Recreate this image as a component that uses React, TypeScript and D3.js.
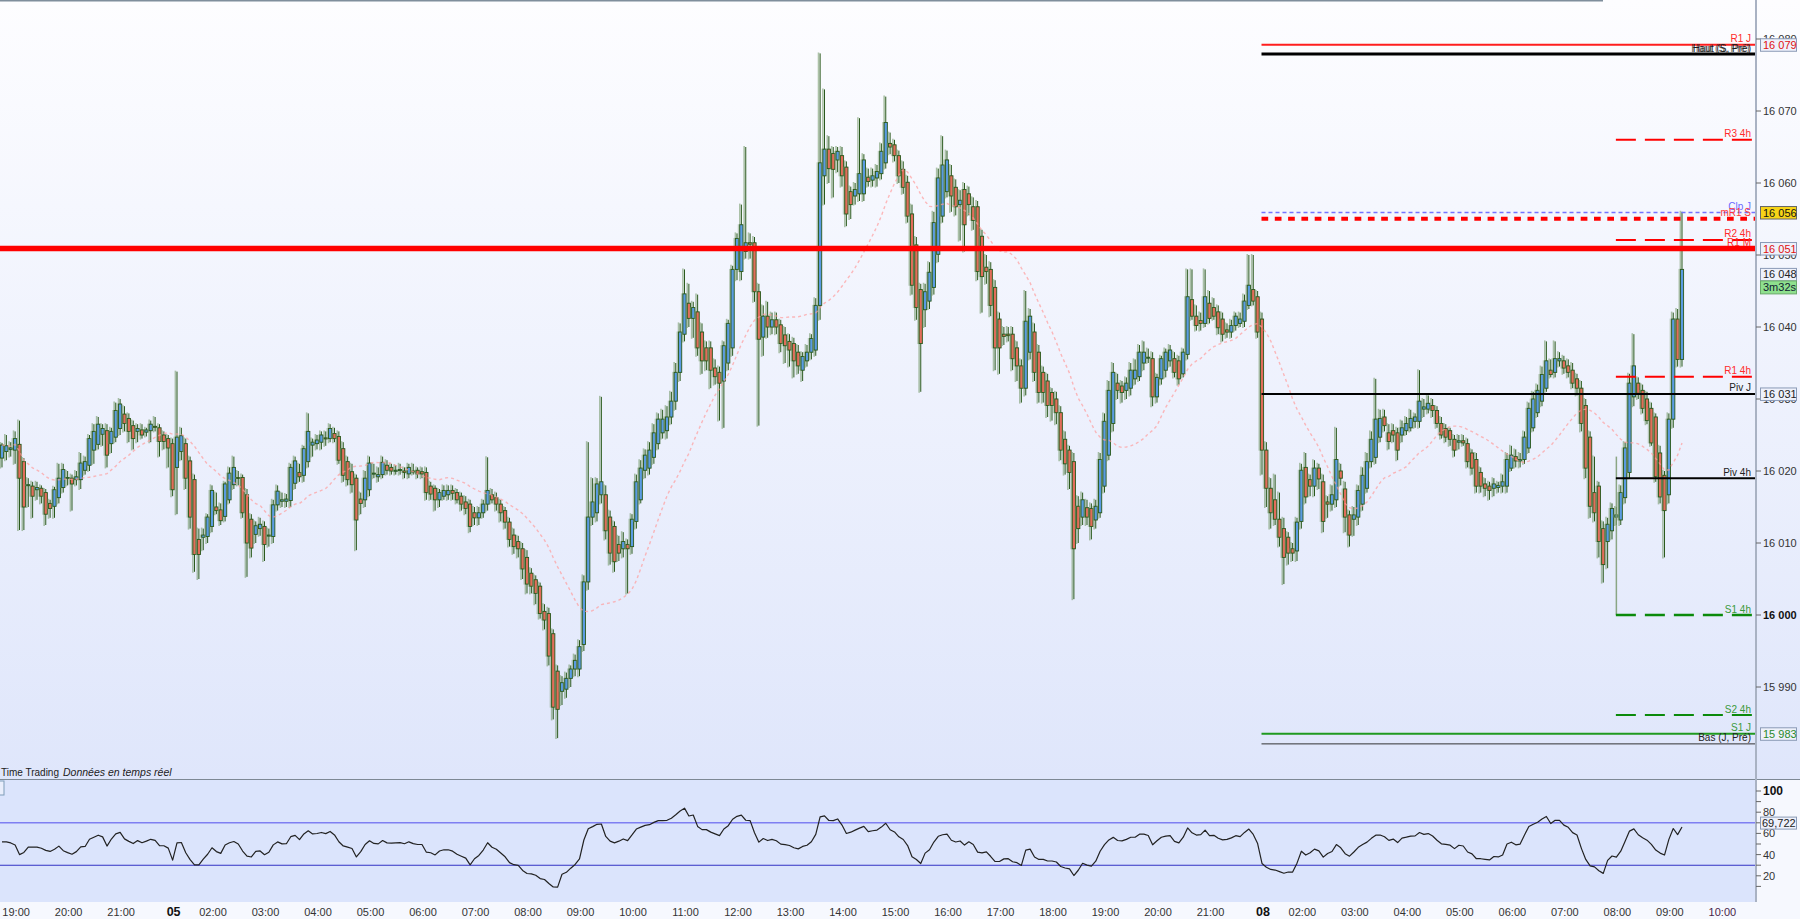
import React, { useEffect } from "react";
import * as d3 from "d3";

// ---------- DATA (5-minute candles) ----------
const OPEN = [
  16021.8, 16022.7, 16023.0, 16022.9, 16023.7, 16021.3, 16018.0, 16017.9, 16017.4, 16017.6,
  16017.0, 16015.5, 16015.1, 16016.3, 16017.7, 16019.0, 16019.0, 16018.8, 16018.8, 16020.1,
  16020.8, 16022.9, 16023.7, 16025.1, 16025.6, 16023.8, 16024.7, 16025.9, 16027.9, 16027.3,
  16026.3, 16025.5, 16025.7, 16025.4, 16025.6, 16026.2, 16026.0, 16025.0, 16024.5, 16023.8,
  16020.5, 16022.7, 16023.8, 16021.4, 16018.8, 16010.5, 16010.8, 16010.9, 16012.3, 16015.0,
  16014.6, 16013.7, 16016.0, 16018.1, 16019.1, 16019.1, 16016.7, 16013.3, 16011.2, 16012.0,
  16012.3, 16011.0, 16010.9, 16015.3, 16015.8, 16015.8, 16015.9, 16018.3, 16019.8, 16019.4,
  16021.3, 16023.6, 16023.8, 16024.0, 16024.6, 16024.5, 16025.2, 16024.8, 16023.1, 16021.3,
  16019.9, 16019.0, 16016.1, 16016.0, 16017.4, 16019.7, 16019.2, 16019.5, 16020.8, 16020.5,
  16020.1, 16020.1, 16020.0, 16019.6, 16020.0, 16020.1, 16019.9, 16019.8, 16017.9, 16017.6,
  16016.0, 16016.5, 16016.7, 16017.3, 16017.0, 16016.5, 16015.7, 16015.4, 16014.2, 16013.5,
  16014.2, 16015.4, 16016.7, 16016.3, 16015.4, 16014.5, 16012.9, 16011.1, 16010.2, 16009.2,
  16008.0, 16005.8, 16004.9, 16004.0, 16000.5, 16000.2, 15997.4, 15992.2, 15989.4, 15989.7,
  15991.2, 15992.5, 15992.5, 15995.9, 16004.6, 16013.6, 16014.2, 16016.7, 16016.7, 16013.6,
  16012.3, 16009.8, 16009.2, 16009.8, 16009.5, 16013.0, 16016.0, 16020.1, 16020.4, 16021.9,
  16023.8, 16025.3, 16025.6, 16027.5, 16029.7, 16033.7, 16039.0, 16043.3, 16041.2, 16042.1,
  16039.3, 16037.1, 16037.1, 16034.3, 16033.7, 16032.5, 16035.0, 16037.1, 16048.0, 16047.7,
  16050.5, 16051.7, 16051.7, 16044.9, 16038.6, 16041.5, 16040.0, 16041.0, 16040.3, 16038.9,
  16038.0, 16037.7, 16036.5, 16034.0, 16035.3, 16036.5, 16036.8, 16043.0, 16061.0, 16064.7,
  16064.1, 16063.2, 16063.8, 16062.2, 16058.8, 16058.2, 16058.5, 16058.5, 16060.8, 16060.4,
  16060.7, 16061.3, 16062.8, 16065.5, 16065.3, 16063.8, 16061.9, 16060.1, 16055.7, 16051.4,
  16045.2, 16042.4, 16043.6, 16045.5, 16050.1, 16055.4, 16058.8, 16061.0, 16059.4, 16057.0,
  16059.1, 16058.5, 16056.7, 16056.7, 16052.6, 16048.3, 16048.0, 16045.5, 16041.1, 16039.0,
  16039.0, 16039.0, 16037.1, 16034.6, 16031.5, 16036.5, 16039.3, 16036.5, 16033.7, 16032.5,
  16030.9, 16030.0, 16028.1, 16024.4, 16022.9, 16021.3, 16015.1, 16013.6, 16014.9, 16014.8,
  16013.2, 16014.2, 16017.9, 16022.2, 16026.6, 16032.2, 16031.8, 16031.2, 16031.5, 16032.8,
  16033.1, 16035.0, 16035.8, 16035.6, 16030.3, 16032.8, 16034.0, 16035.3, 16035.6, 16035.3,
  16033.5, 16036.2, 16043.8, 16041.5, 16040.9, 16040.5, 16043.3, 16042.7, 16042.1, 16041.1,
  16039.6, 16039.3, 16040.2, 16040.5, 16040.8, 16043.0, 16045.2, 16044.2, 16041.1, 16022.9,
  16017.6, 16016.0, 16013.3, 16012.0, 16010.8, 16009.2, 16008.9, 16013.0, 16020.5, 16018.8,
  16017.9, 16020.4, 16018.5, 16015.7, 16015.4, 16016.0, 16020.0, 16017.5, 16013.9, 16013.3,
  16013.6, 16015.4, 16017.6, 16021.3, 16021.9, 16024.7, 16027.5, 16025.3, 16025.6, 16025.3,
  16025.0, 16025.6, 16026.0, 16026.9, 16026.9, 16028.6, 16028.6, 16029.1, 16028.4, 16026.6,
  16025.9, 16025.6, 16024.4, 16024.0, 16024.2, 16023.8, 16022.5, 16021.6, 16019.8, 16018.2,
  16017.9, 16017.6, 16017.7, 16017.9, 16017.9, 16020.4, 16022.0, 16021.4, 16021.6, 16023.2,
  16026.0, 16028.1, 16029.7, 16031.5, 16034.0, 16033.7, 16035.3, 16035.3, 16034.6, 16034.0,
  16032.8, 16031.5, 16029.1, 16024.7, 16017.0, 16017.9, 16012.0, 16010.2, 16011.7, 16013.6,
  16013.2, 16016.3, 16019.8, 16030.3, 16032.2, 16031.2, 16030.0, 16028.7, 16027.5, 16022.5,
  16019.4, 16016.7, 16027.2, 16041.1, 16035.5,
];
const HIGH = [
  16023.9, 16025.0, 16024.0, 16025.5, 16027.0, 16021.8, 16019.0, 16018.5, 16018.5, 16018.0,
  16017.5, 16016.0, 16017.8, 16021.0, 16021.0, 16020.0, 16019.5, 16020.0, 16022.5, 16022.0,
  16025.0, 16026.5, 16027.5, 16026.5, 16026.5, 16026.0, 16029.5, 16030.0, 16029.0, 16028.0,
  16027.0, 16026.5, 16026.5, 16026.0, 16027.0, 16027.5, 16026.5, 16025.5, 16025.0, 16024.5,
  16033.8, 16026.0, 16024.5, 16022.0, 16019.5, 16012.0, 16012.0, 16014.0, 16018.0, 16017.0,
  16015.5, 16018.5, 16020.5, 16022.0, 16020.0, 16019.5, 16017.5, 16014.0, 16013.0, 16013.5,
  16013.0, 16012.0, 16016.0, 16018.0, 16017.0, 16016.8, 16021.0, 16022.0, 16021.0, 16023.5,
  16028.0, 16024.5, 16025.0, 16025.5, 16025.5, 16026.5, 16026.0, 16025.5, 16024.0, 16022.0,
  16021.0, 16019.5, 16017.0, 16020.0, 16022.0, 16021.0, 16020.5, 16022.0, 16021.5, 16021.0,
  16020.8, 16021.0, 16020.5, 16021.0, 16021.0, 16020.5, 16020.5, 16020.5, 16018.5, 16018.0,
  16017.5, 16018.0, 16018.0, 16018.0, 16017.5, 16017.0, 16016.5, 16016.0, 16015.0, 16015.0,
  16016.0, 16021.9, 16017.5, 16017.0, 16016.0, 16015.0, 16013.5, 16012.0, 16011.0, 16010.0,
  16009.0, 16006.5, 16005.5, 16004.5, 16001.5, 16001.0, 15998.0, 15993.0, 15991.5, 15992.0,
  15993.0, 15994.5, 15996.5, 16005.5, 16024.0, 16019.0, 16019.0, 16030.3, 16018.0, 16014.5,
  16013.0, 16011.0, 16011.5, 16010.5, 16014.0, 16019.5, 16021.5, 16023.0, 16024.0, 16026.5,
  16028.0, 16028.5, 16029.0, 16031.0, 16035.0, 16040.5, 16048.0, 16046.0, 16043.5, 16044.5,
  16040.5, 16038.0, 16038.0, 16035.5, 16034.5, 16038.0, 16041.0, 16048.5, 16053.0, 16057.0,
  16065.0, 16053.0, 16052.5, 16046.0, 16043.0, 16043.5, 16042.0, 16042.0, 16041.0, 16040.0,
  16039.0, 16038.5, 16037.5, 16036.5, 16037.5, 16039.0, 16044.0, 16078.0, 16073.0, 16066.5,
  16065.0, 16065.0, 16065.0, 16063.0, 16059.5, 16060.0, 16069.0, 16064.0, 16062.0, 16062.0,
  16062.5, 16065.5, 16072.0, 16067.0, 16066.0, 16064.5, 16063.0, 16061.0, 16057.0, 16052.5,
  16046.0, 16046.0, 16049.0, 16056.0, 16062.0, 16066.5, 16064.5, 16062.5, 16060.5, 16059.0,
  16060.0, 16059.5, 16058.0, 16057.5, 16053.5, 16050.0, 16049.0, 16046.5, 16042.0, 16040.0,
  16040.0, 16040.0, 16038.0, 16035.5, 16045.0, 16042.5, 16040.5, 16037.5, 16034.5, 16033.5,
  16031.5, 16031.0, 16029.0, 16025.5, 16023.5, 16022.5, 16016.5, 16017.0, 16016.0, 16015.5,
  16016.0, 16022.5, 16028.0, 16032.5, 16035.0, 16033.5, 16032.5, 16033.0, 16035.0, 16035.5,
  16037.5, 16038.0, 16037.0, 16036.5, 16033.5, 16036.0, 16037.0, 16037.5, 16036.5, 16036.0,
  16037.0, 16048.0, 16048.0, 16043.0, 16042.0, 16048.0, 16045.0, 16044.0, 16043.0, 16042.0,
  16040.5, 16041.0, 16042.0, 16042.0, 16044.5, 16050.0, 16050.0, 16045.0, 16042.0, 16024.0,
  16019.0, 16019.5, 16017.0, 16013.5, 16011.5, 16010.0, 16013.5, 16021.0, 16022.5, 16019.5,
  16021.5, 16021.0, 16019.5, 16016.5, 16018.0, 16026.0, 16021.0, 16018.5, 16014.5, 16015.0,
  16018.0, 16020.5, 16022.5, 16025.5, 16032.8, 16028.5, 16028.5, 16026.5, 16026.5, 16026.0,
  16027.0, 16027.5, 16028.5, 16028.0, 16034.0, 16030.0, 16030.5, 16030.0, 16029.0, 16027.5,
  16026.5, 16026.0, 16025.0, 16025.0, 16025.0, 16024.5, 16023.0, 16022.5, 16020.5, 16019.0,
  16018.5, 16019.0, 16018.5, 16019.5, 16022.5, 16023.5, 16023.0, 16022.5, 16025.5, 16029.5,
  16031.0, 16032.0, 16034.5, 16038.0, 16035.5, 16038.0, 16036.5, 16036.0, 16035.5, 16035.0,
  16033.5, 16032.5, 16030.0, 16025.5, 16022.0, 16018.5, 16013.0, 16013.5, 16015.5, 16015.0,
  16018.0, 16024.0, 16033.5, 16039.0, 16033.0, 16032.0, 16031.0, 16029.5, 16028.0, 16023.5,
  16020.0, 16028.0, 16042.0, 16042.5, 16056.0,
];
const LOW = [
  16020.5, 16021.5, 16022.0, 16021.0, 16011.8, 16011.8, 16015.0, 16013.5, 16016.0, 16015.5,
  16012.5, 16013.5, 16013.5, 16015.5, 16017.0, 16018.0, 16014.5, 16018.0, 16017.5, 16019.5,
  16020.0, 16021.0, 16023.0, 16023.5, 16020.5, 16022.5, 16024.0, 16025.0, 16025.5, 16024.0,
  16023.0, 16024.0, 16024.5, 16024.8, 16024.0, 16025.5, 16022.0, 16023.0, 16020.5, 16016.5,
  16014.0, 16021.5, 16017.5, 16012.0, 16006.0, 16005.0, 16009.0, 16010.0, 16011.5, 16014.0,
  16012.5, 16013.0, 16015.5, 16017.5, 16018.0, 16013.5, 16005.3, 16008.0, 16010.0, 16011.0,
  16007.5, 16009.5, 16010.0, 16014.5, 16015.0, 16015.0, 16015.0, 16017.5, 16018.5, 16018.5,
  16020.5, 16022.0, 16023.0, 16023.0, 16023.5, 16024.0, 16024.0, 16021.0, 16018.5, 16018.0,
  16017.0, 16009.0, 16014.0, 16015.0, 16016.5, 16019.0, 16018.5, 16019.0, 16019.5, 16019.5,
  16019.5, 16019.5, 16019.0, 16019.0, 16019.5, 16019.0, 16019.0, 16016.0, 16016.0, 16014.5,
  16015.0, 16016.0, 16016.0, 16016.0, 16015.5, 16014.5, 16014.0, 16011.5, 16012.5, 16012.5,
  16013.5, 16014.5, 16015.5, 16014.5, 16013.0, 16012.0, 16009.5, 16008.5, 16008.0, 16005.0,
  16003.0, 16003.0, 16001.5, 15999.5, 15998.0, 15993.0, 15985.5, 15982.9, 15987.5, 15988.5,
  15990.0, 15991.5, 15991.5, 15995.0, 16003.5, 16012.5, 16013.0, 16015.5, 16010.5, 16007.0,
  16006.0, 16007.5, 16008.0, 16003.0, 16008.5, 16012.0, 16015.5, 16019.0, 16019.5, 16021.0,
  16023.0, 16024.5, 16024.5, 16026.5, 16028.5, 16032.5, 16038.0, 16040.0, 16038.5, 16036.0,
  16033.5, 16034.0, 16031.5, 16032.0, 16027.0, 16026.0, 16034.0, 16036.0, 16046.5, 16046.5,
  16049.5, 16049.5, 16043.5, 16026.3, 16036.0, 16038.5, 16039.0, 16039.0, 16036.5, 16035.0,
  16034.5, 16033.0, 16033.5, 16032.5, 16034.5, 16035.5, 16036.0, 16041.0, 16057.0, 16060.0,
  16058.0, 16061.5, 16059.5, 16054.0, 16055.0, 16057.0, 16057.5, 16057.5, 16059.5, 16059.5,
  16059.5, 16060.5, 16062.0, 16064.0, 16063.0, 16060.0, 16058.5, 16054.5, 16044.5, 16041.0,
  16031.0, 16040.0, 16042.5, 16044.5, 16049.0, 16054.5, 16058.0, 16056.0, 16055.5, 16052.0,
  16050.5, 16055.5, 16053.5, 16046.5, 16042.0, 16046.0, 16041.5, 16034.0, 16033.5, 16037.5,
  16038.0, 16034.0, 16032.5, 16029.5, 16030.5, 16035.5, 16032.5, 16029.5, 16029.5, 16027.5,
  16027.0, 16026.5, 16021.5, 16019.5, 16017.5, 16002.2, 16010.0, 16012.5, 16012.5, 16010.5,
  16012.0, 16013.5, 16017.0, 16021.5, 16025.5, 16030.0, 16029.5, 16030.0, 16030.5, 16032.0,
  16032.5, 16034.0, 16035.0, 16029.0, 16029.5, 16032.0, 16033.0, 16034.5, 16033.0, 16032.0,
  16033.0, 16035.5, 16041.0, 16039.5, 16039.5, 16040.0, 16040.5, 16041.0, 16039.0, 16038.0,
  16038.5, 16038.5, 16039.5, 16040.0, 16040.0, 16042.5, 16043.0, 16038.5, 16019.5, 16015.0,
  16012.0, 16012.5, 16009.5, 16004.3, 16007.0, 16007.5, 16007.5, 16012.0, 16015.5, 16016.5,
  16016.5, 16017.5, 16011.5, 16013.5, 16014.5, 16015.0, 16018.0, 16011.5, 16009.5, 16011.0,
  16012.5, 16014.5, 16017.0, 16020.5, 16021.0, 16024.0, 16025.5, 16023.0, 16024.0, 16021.5,
  16024.0, 16025.0, 16025.5, 16026.0, 16026.0, 16027.5, 16028.0, 16027.5, 16026.0, 16024.5,
  16024.0, 16023.5, 16022.0, 16023.0, 16023.5, 16020.5, 16019.5, 16017.0, 16017.0, 16016.5,
  16016.0, 16016.5, 16017.0, 16017.0, 16017.0, 16020.0, 16020.5, 16020.5, 16021.0, 16022.5,
  16025.5, 16027.5, 16029.0, 16031.0, 16033.0, 16033.0, 16034.5, 16033.5, 16033.0, 16031.5,
  16030.5, 16025.5, 16019.0, 16013.5, 16013.0, 16008.0, 16004.5, 16006.5, 16010.5, 16012.5,
  16012.5, 16015.5, 16019.0, 16029.0, 16030.0, 16028.0, 16026.5, 16023.5, 16018.5, 16015.5,
  16008.0, 16015.5, 16026.0, 16034.5, 16034.5,
];
const CLOSE = [
  16023.6, 16023.5, 16023.2, 16024.5, 16019.0, 16015.0, 16018.1, 16016.5, 16017.7, 16016.5,
  16014.0, 16014.8, 16017.4, 16019.0, 16020.2, 16019.1, 16018.2, 16019.2, 16021.1, 16021.3,
  16024.5, 16025.5, 16026.5, 16025.9, 16022.2, 16025.5, 16028.4, 16029.3, 16026.6, 16025.5,
  16024.5, 16025.9, 16025.0, 16025.7, 16026.5, 16026.1, 16024.1, 16024.1, 16023.2, 16017.4,
  16024.7, 16024.9, 16019.0, 16013.6, 16008.4, 16008.4, 16011.1, 16013.6, 16017.3, 16014.5,
  16013.1, 16018.2, 16019.7, 16020.5, 16019.0, 16014.2, 16010.0, 16009.3, 16012.4, 16012.6,
  16009.8, 16011.1, 16015.3, 16017.2, 16016.0, 16016.1, 16020.5, 16021.4, 16019.2, 16023.1,
  16025.5, 16024.0, 16024.3, 16025.0, 16024.5, 16025.9, 16024.5, 16021.5, 16019.4, 16018.8,
  16018.1, 16013.2, 16015.5, 16019.0, 16021.1, 16019.7, 16019.5, 16021.2, 16020.1, 16020.0,
  16020.1, 16020.2, 16019.8, 16020.5, 16019.9, 16019.6, 16019.6, 16017.0, 16016.8, 16016.0,
  16017.0, 16017.3, 16017.3, 16016.9, 16016.0, 16015.4, 16014.8, 16012.3, 16013.5, 16014.2,
  16015.4, 16017.3, 16016.0, 16015.4, 16014.2, 16012.9, 16010.5, 16009.5, 16009.2, 16006.4,
  16004.3, 16004.0, 16003.0, 16000.2, 15999.3, 15994.3, 15987.2, 15986.9, 15990.6, 15991.2,
  15992.5, 15993.7, 15995.6, 16004.6, 16013.6, 16015.7, 16018.2, 16018.5, 16011.7, 16008.6,
  16007.4, 16008.6, 16010.2, 16009.2, 16013.3, 16018.5, 16020.4, 16022.2, 16022.9, 16025.3,
  16027.2, 16027.2, 16027.5, 16029.7, 16033.7, 16039.3, 16044.6, 16041.2, 16042.7, 16037.1,
  16035.3, 16035.3, 16034.0, 16033.1, 16032.2, 16037.4, 16040.5, 16048.0, 16052.3, 16054.2,
  16051.7, 16051.5, 16044.9, 16038.3, 16041.5, 16040.0, 16041.0, 16040.0, 16037.7, 16037.4,
  16036.8, 16035.3, 16034.6, 16035.9, 16036.5, 16038.4, 16043.0, 16062.8, 16064.7, 16062.0,
  16061.9, 16064.4, 16061.0, 16055.7, 16057.0, 16059.1, 16061.3, 16063.2, 16060.2, 16061.0,
  16061.6, 16064.4, 16068.4, 16065.0, 16063.8, 16061.0, 16059.4, 16055.4, 16045.8, 16042.7,
  16037.7, 16044.9, 16047.6, 16054.5, 16060.7, 16062.5, 16063.2, 16058.2, 16056.7, 16057.6,
  16054.2, 16057.0, 16054.8, 16047.7, 16047.0, 16047.7, 16043.0, 16037.1, 16037.1, 16038.7,
  16038.8, 16035.6, 16034.6, 16031.5, 16040.8, 16041.5, 16033.7, 16030.9, 16030.9, 16029.1,
  16029.1, 16028.1, 16022.9, 16021.0, 16019.8, 16009.2, 16012.0, 16016.0, 16013.6, 16012.3,
  16015.1, 16021.6, 16026.9, 16031.2, 16033.7, 16031.2, 16030.9, 16032.2, 16034.0, 16034.0,
  16036.5, 16036.5, 16035.8, 16030.3, 16033.0, 16035.6, 16036.5, 16036.8, 16033.7, 16032.8,
  16036.5, 16044.2, 16041.5, 16040.2, 16040.5, 16044.2, 16041.2, 16041.5, 16039.9, 16039.0,
  16039.3, 16040.2, 16041.5, 16041.1, 16043.6, 16045.8, 16043.6, 16039.3, 16022.9, 16017.6,
  16014.2, 16013.3, 16010.8, 16008.0, 16008.6, 16008.6, 16012.9, 16020.1, 16016.4, 16017.9,
  16020.4, 16018.9, 16013.0, 16015.4, 16016.7, 16021.6, 16019.0, 16013.6, 16011.1, 16013.9,
  16017.3, 16019.4, 16021.3, 16024.4, 16027.2, 16027.3, 16026.3, 16024.1, 16025.0, 16022.9,
  16026.0, 16026.6, 16027.3, 16027.5, 16029.7, 16028.9, 16029.4, 16028.4, 16026.6, 16025.0,
  16024.7, 16024.4, 16022.9, 16024.2, 16023.9, 16021.3, 16020.4, 16017.9, 16017.9, 16017.6,
  16017.3, 16018.2, 16018.0, 16018.5, 16021.6, 16022.2, 16021.4, 16021.6, 16024.7, 16028.7,
  16030.0, 16031.2, 16033.4, 16035.3, 16033.4, 16035.6, 16035.6, 16034.3, 16033.7, 16032.2,
  16031.5, 16026.6, 16020.4, 16015.1, 16014.2, 16010.2, 16007.0, 16012.6, 16014.8, 16013.9,
  16017.0, 16023.2, 16032.2, 16034.6, 16030.8, 16028.7, 16027.0, 16023.9, 16019.2, 16016.4,
  16014.5, 16027.2, 16041.1, 16035.5, 16048.0,
];

// RSI values read for the first 14 candles (before the 14-period RSI has its own history)
const RSI_HEAD = [52, 52, 51, 49, 40, 42, 47, 47, 47, 46, 44, 43, 45, 48];
const RSI_LAST_LABEL = 69.722;

const TIME_TICK_IDX = [3, 15, 27, 39, 48, 60, 72, 84, 96, 108, 120, 132, 144, 156, 168, 180, 192, 204, 216, 228, 240, 252, 264, 276, 288, 297, 309, 321, 333, 345, 357, 369, 381, 393];
const TIME_TICK_LBL = ["19:00", "20:00", "21:00", "05", "02:00", "03:00", "04:00", "05:00", "06:00", "07:00", "08:00", "09:00", "10:00", "11:00", "12:00", "13:00", "14:00", "15:00", "16:00", "17:00", "18:00", "19:00", "20:00", "21:00", "08", "02:00", "03:00", "04:00", "05:00", "06:00", "07:00", "08:00", "09:00", "10:00"];

const PRICE_TICKS = [15990, 16000, 16010, 16020, 16030, 16040, 16050, 16060, 16070, 16080];
const RSI_TICKS = [10, 20, 30, 40, 50, 60, 70, 80, 90, 100];
const RSI_TICK_LABELS = [20, 40, 60, 80, 100];
const RSI_BANDS = [70, 30];

const LEVEL_NAMES = ["R1 J", "Haut (S, Pré)", "R3 4h", "Clp J", "mR1 S", "R2 4h", "R1 M", "R1 4h", "Piv J", "Piv 4h", "S1 4h", "S2 4h", "S1 J", "Bas (J, Pré)"];
const LEVEL_VALUES = [16079.2, 16077.9, 16066.0, 16055.9, 16055.05, 16052.1, 16050.9, 16033.1, 16030.7, 16019.0, 16000.0, 15986.1, 15983.5, 15982.1];
const LEVEL_FROM = [288, 288, 369, 288, 288, 369, -1, 369, 288, 369, 369, 369, 288, 288];

const BOX_LABELS = ["16 079", "16 056", "16 051", "16 031", "15 983"];
const BOX_LEVELS = ["R1 J", "Clp J", "R1 M", "Piv J", "S1 J"];
const TIMER_TEXT = "3m32s";
const STATUS_LEFT = "Time Trading";
const STATUS_RIGHT = "Données en temps réel";

// ---------- STYLES ----------
const LEVEL_STYLE: Record<string, any> = {
  "R1 J": { stroke: "#ff1e1e", w: 2.2, dash: null, col: "#ff2b2b" },
  "Haut (S, Pré)": { stroke: "#000000", w: 3, dash: null, col: "#1a1a1a" },
  "R3 4h": { stroke: "#ff0000", w: 2, dash: "20,9", col: "#ff2b2b", end: 1753 },
  "Clp J": { stroke: "#7373ff", w: 1.5, dash: "4,3", col: "#6a6aff" },
  "mR1 S": { stroke: "#ff0000", w: 4, dash: "6.7,6.6", col: "#ff3a3a" },
  "R2 4h": { stroke: "#ff0000", w: 2, dash: "20,9", col: "#ff2b2b", end: 1753 },
  "R1 M": { stroke: "#ff0000", w: 5.5, dash: null, col: "#ff2b2b" },
  "R1 4h": { stroke: "#ff0000", w: 2, dash: "20,9", col: "#ff2b2b", end: 1753 },
  "Piv J": { stroke: "#000000", w: 2, dash: null, col: "#222" },
  "Piv 4h": { stroke: "#000000", w: 2, dash: null, col: "#222" },
  "S1 4h": { stroke: "#0b8a0b", w: 2.5, dash: "20,9", col: "#3a9a3a", end: 1753 },
  "S2 4h": { stroke: "#0b8a0b", w: 2, dash: "20,9", col: "#3a9a3a", end: 1753 },
  "S1 J": { stroke: "#1f9a1f", w: 2, dash: null, col: "#3a9a3a" },
  "Bas (J, Pré)": { stroke: "#333333", w: 1, dash: null, col: "#222" },
};
const BOX_STYLE: Record<string, any> = {
  "R1 J": { fill: "#eef1fb", col: "#e01010" },
  "Clp J": { fill: "#f7d417", col: "#111" },
  "R1 M": { fill: "#eef1fb", col: "#e01010" },
  "Piv J": { fill: "#eef1fb", col: "#222" },
  "S1 J": { fill: "#eef1fb", col: "#2a8a2a" },
};

const FONT = "'Liberation Sans', Arial, sans-serif";
const BLUE = "#5a9be2";
const RED = "#e26d5b";
const EDGE = "#2b5a1d";

function computeRsi(closes: number[], head: number[], n = 14): number[] {
  const out: number[] = head.slice(0, n);
  let ag = 0, al = 0;
  for (let i = 1; i <= n; i++) {
    const d = closes[i] - closes[i - 1];
    ag += Math.max(d, 0);
    al += Math.max(-d, 0);
  }
  ag /= n; al /= n;
  out[n] = al === 0 ? 100 : 100 - 100 / (1 + ag / al);
  for (let i = n + 1; i < closes.length; i++) {
    const d = closes[i] - closes[i - 1];
    ag = (ag * (n - 1) + Math.max(d, 0)) / n;
    al = (al * (n - 1) + Math.max(-d, 0)) / n;
    out[i] = al === 0 ? 100 : 100 - 100 / (1 + ag / al);
  }
  return out;
}

const fmtPrice = (v: number) => d3.format(",")(v).replace(",", " ");

export default function App() {
  useEffect(() => {
    document.body.style.margin = "0";
  }, []);

  const W = 1800, H = 919;
  const AXIS_X = 1756;
  const MAIN_BOTTOM = 779;
  const RSI_BOTTOM = 902;

  const x = d3.scaleLinear().domain([0, 384]).range([2, 1682]);
  const y = d3.scaleLinear().domain([15990, 16070]).range([687, 111]);
  const yR = d3.scaleLinear().domain([0, 100]).range([897, 791]);

  const ma = CLOSE.map((_, i) => d3.mean(CLOSE.slice(Math.max(0, i - 19), i + 1)) as number);
  const rsi = computeRsi(CLOSE, RSI_HEAD);

  const maPath = d3.line<number>().x((_, i) => x(i)).y((d) => y(d))(ma) || "";
  const rsiPath = d3.line<number>().x((_, i) => x(i)).y((d) => yR(d))(rsi) || "";

  const bw = 3.2;
  const lastIdx = CLOSE.length - 1;
  const lastY = y(CLOSE[lastIdx]);
  const levelOf = (name: string) => LEVEL_VALUES[LEVEL_NAMES.indexOf(name)];

  return (
    <div style={{ position: "absolute", left: 0, top: 0, width: W, height: H }}>
      <svg width={W} height={H} style={{ display: "block", fontFamily: FONT }}>
        <defs>
          <linearGradient id="bg" x1="0" y1="0" x2="0" y2="1">
            <stop offset="0" stopColor="#fdfdff" />
            <stop offset="1" stopColor="#dfe6fb" />
          </linearGradient>
          <clipPath id="mainClip">
            <rect x={0} y={0} width={AXIS_X} height={MAIN_BOTTOM} />
          </clipPath>
          <clipPath id="rsiClip">
            <rect x={0} y={MAIN_BOTTOM} width={AXIS_X} height={RSI_BOTTOM - MAIN_BOTTOM} />
          </clipPath>
        </defs>

        {/* backgrounds */}
        <rect x={0} y={0} width={W} height={MAIN_BOTTOM} fill="url(#bg)" />
        <rect x={0} y={MAIN_BOTTOM} width={W} height={H - MAIN_BOTTOM} fill="#f6f8fe" />
        <rect x={0} y={MAIN_BOTTOM} width={AXIS_X} height={RSI_BOTTOM - MAIN_BOTTOM} fill="#dbe4fc" />
        <line x1={0} x2={1603} y1={0.7} y2={0.7} stroke="#7f8e9c" strokeWidth={1.4} />

        {/* candles */}
        <g clipPath="url(#mainClip)">
          {OPEN.map((o, i) => {
            const c = CLOSE[i];
            const h = Math.max(HIGH[i], o, c);
            const l = Math.min(LOW[i], o, c);
            const cx = x(i);
            const yt = y(Math.max(o, c));
            const yb = y(Math.min(o, c));
            const bh = Math.max(yb - yt, 1);
            const up = c >= o;
            return (
              <g key={i}>
                <line x1={cx - 1.6} x2={cx - 1.6} y1={y(h) - 1} y2={y(l) + 1} stroke="#6f9563" strokeWidth={1.6} opacity={0.55} />
                <rect x={cx - bw / 2 - 2} y={yt - 0.5} width={bw + 2} height={bh + 1} fill="#7a9c6e" opacity={0.45} />
                <line x1={cx} x2={cx} y1={y(h)} y2={y(l)} stroke={EDGE} strokeWidth={1} />
                <rect x={cx - bw / 2} y={yt} width={bw} height={bh} fill={up ? BLUE : RED} stroke={EDGE} strokeWidth={0.9} />
              </g>
            );
          })}
          <path d={maPath} fill="none" stroke="#ff9c9c" strokeWidth={1.4} strokeDasharray="3,3" opacity={0.7} />

          {/* 4h pivot start connector */}
          <line x1={x(369)} x2={x(369)} y1={y(16022)} y2={y(levelOf("S1 4h"))} stroke="#7b9a70" strokeWidth={1.5} opacity={0.85} />

          {/* pivot / level lines */}
          {LEVEL_NAMES.map((name, k) => {
            const st = LEVEL_STYLE[name];
            const yy = y(LEVEL_VALUES[k]);
            const x1 = LEVEL_FROM[k] < 0 ? 0 : x(LEVEL_FROM[k]) - 0.5;
            const x2 = st.end ?? AXIS_X;
            return (
              <line key={name} x1={x1} x2={x2} y1={yy} y2={yy} stroke={st.stroke} strokeWidth={st.w}
                strokeDasharray={st.dash ?? undefined} />
            );
          })}
          {LEVEL_NAMES.map((name, k) => {
            const st = LEVEL_STYLE[name];
            const yy = y(LEVEL_VALUES[k]);
            return (
              <g key={"t" + name}>
                {name.startsWith("Haut") && (
                  <text x={1749.5} y={yy - 2.5} textAnchor="end" fontSize={10} fill={st.col} opacity={0.7}>{name}</text>
                )}
                <text x={1751} y={yy - 2.5} textAnchor="end" fontSize={10} fill={st.col}>{name}</text>
              </g>
            );
          })}
        </g>

        {/* status text */}
        <text x={1} y={776} fontSize={10} fill="#222">{STATUS_LEFT}</text>
        <text x={63} y={776} fontSize={10.5} fontStyle="italic" fill="#222">{STATUS_RIGHT}</text>

        {/* RSI panel */}
        <line x1={0} x2={W} y1={MAIN_BOTTOM + 0.5} y2={MAIN_BOTTOM + 0.5} stroke="#7d8894" strokeWidth={1} />
        <rect x={-12} y={781} width={16} height={14} fill="#e9eefc" stroke="#7f9db9" strokeWidth={1} />
        <g clipPath="url(#rsiClip)">
          {RSI_BANDS.map((b, k) => (
            <line key={b} x1={0} x2={AXIS_X} y1={yR(b)} y2={yR(b)} stroke={k === 0 ? "#7f7ff2" : "#3232c4"} strokeWidth={k === 0 ? 1.6 : 1.1} />
          ))}
          <path d={rsiPath} fill="none" stroke="#222" strokeWidth={1.2} strokeLinejoin="round" />
        </g>

        {/* right axis */}
        <line x1={AXIS_X} x2={AXIS_X} y1={0} y2={RSI_BOTTOM} stroke="#a9b2c3" strokeWidth={2} />
        {PRICE_TICKS.map((p) => (
          <g key={p}>
            <line x1={AXIS_X} x2={AXIS_X + 5} y1={y(p)} y2={y(p)} stroke="#666" />
            <text x={1763} y={y(p) + 4} fontSize={11} fontWeight={p === 16000 ? "bold" : "normal"} fill={p === 16000 ? "#111" : "#333"}>{fmtPrice(p)}</text>
          </g>
        ))}
        {RSI_TICKS.map((t) => (
          <line key={t} x1={AXIS_X} x2={AXIS_X + 5} y1={yR(t)} y2={yR(t)} stroke="#666" />
        ))}
        {RSI_TICK_LABELS.map((t) => (
          <text key={t} x={1763} y={yR(t) + 4} fontSize={t === 100 ? 12 : 11} fontWeight={t === 100 ? "bold" : "normal"} fill={t === 100 ? "#111" : "#333"}>{t}</text>
        ))}

        {/* price boxes */}
        {BOX_LEVELS.map((name, k) => {
          const st = BOX_STYLE[name];
          const yy = y(levelOf(name));
          return (
            <g key={"b" + name}>
              <rect x={1760.5} y={yy - 6} width={36} height={12.5} fill={st.fill} stroke={name === "Clp J" ? "#666" : "#8a9ab6"} strokeWidth={1} />
              <text x={1763} y={yy + 4} fontSize={11} fill={st.col}>{BOX_LABELS[k]}</text>
            </g>
          );
        })}
        <g>
          <rect x={1760.5} y={lastY - 1} width={36} height={12.5} fill="#eef1fb" stroke="#8a9ab6" />
          <text x={1763} y={lastY + 9} fontSize={11} fill="#222">{fmtPrice(CLOSE[lastIdx])}</text>
          <rect x={1760.5} y={lastY + 11.5} width={36} height={13} fill="#8ee08e" stroke="#6aa86a" />
          <text x={1763} y={lastY + 22} fontSize={11} fill="#123">{TIMER_TEXT}</text>
        </g>
        <g>
          <rect x={1760.5} y={yR(RSI_LAST_LABEL) - 6} width={36} height={12} fill="#eef1fb" stroke="#8a9ab6" />
          <text x={1762} y={yR(RSI_LAST_LABEL) + 4} fontSize={11} fill="#222">{d3.format(".3f")(RSI_LAST_LABEL).replace(".", ",")}</text>
        </g>

        {/* time axis */}
        {TIME_TICK_IDX.map((idx, k) => {
          const lbl = TIME_TICK_LBL[k];
          const isDay = !lbl.includes(":");
          const future = idx > lastIdx;
          return (
            <text key={k} x={x(idx) + 1} y={isDay ? 915.5 : 916} textAnchor="middle" fontSize={isDay ? 12.5 : 11}
              fontWeight={isDay ? "bold" : "normal"} fill={future ? "#4a1f4a" : isDay ? "#111" : "#333"}>
              {lbl}
            </text>
          );
        })}
      </svg>
    </div>
  );
}
